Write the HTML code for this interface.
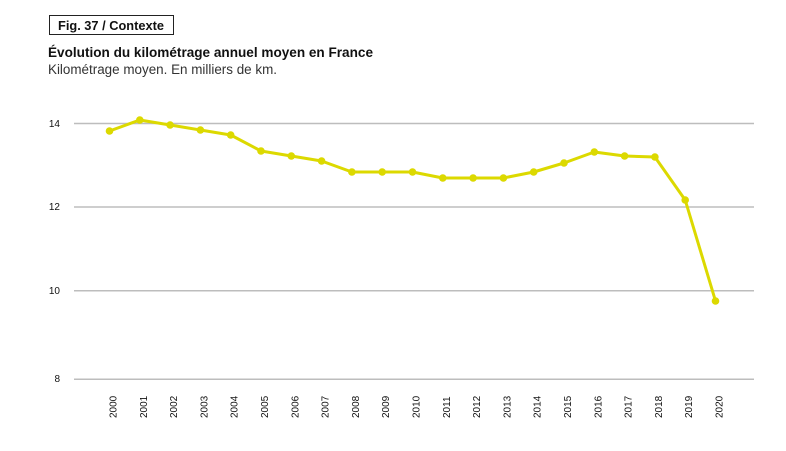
<!DOCTYPE html>
<html><head><meta charset="utf-8"><style>
body{margin:0;background:#fff;width:786px;height:446px;overflow:hidden;font-family:"Liberation Sans",sans-serif}
</style></head><body>
<svg width="786" height="446" xmlns="http://www.w3.org/2000/svg" font-family="Liberation Sans, sans-serif">
<rect x="49.5" y="15.5" width="124" height="19" fill="none" stroke="#222" stroke-width="1"/>
<text x="58" y="30" font-size="13" font-weight="bold" fill="#111" textLength="106" lengthAdjust="spacingAndGlyphs">Fig. 37 / Contexte</text>
<text x="48" y="57" font-size="14" font-weight="bold" fill="#111" textLength="325" lengthAdjust="spacingAndGlyphs">Évolution du kilométrage annuel moyen en France</text>
<text x="48" y="74" font-size="13.5" fill="#333" textLength="229" lengthAdjust="spacingAndGlyphs">Kilométrage moyen. En milliers de km.</text>
<g stroke="#bdbdbd" stroke-width="1.5">
<line x1="74" x2="754" y1="123.5" y2="123.5"/>
<line x1="74" x2="754" y1="207" y2="207"/>
<line x1="74" x2="754" y1="290.7" y2="290.7"/>
<line x1="74" x2="754" y1="379.3" y2="379.3"/>
</g>
<g font-size="10" fill="#111" text-anchor="end">
<text x="60" y="127">14</text><text x="60" y="210">12</text><text x="60" y="294">10</text><text x="60" y="382">8</text>
</g>
<g id="yrs" font-size="10" fill="#111"></g>
<polyline id="ln" fill="none" stroke="#dcd900" stroke-width="3" stroke-linejoin="round"/>
<g id="dots" fill="#dcd900"></g>
</svg>
<script>
var ys=[131,120,125,130,135,151,156,161,172,172,172,178,178,178,172,163,152,156,157,200,301];
var pts=[],d="",t="";
for(var i=0;i<21;i++){var x=109.5+i*30.3;pts.push(x+","+ys[i]);
d+='<circle cx="'+x+'" cy="'+ys[i]+'" r="3.8"/>';
t+='<text transform="translate('+(x+7)+',418) rotate(-90)">'+(2000+i)+'</text>';}
document.getElementById("ln").setAttribute("points",pts.join(" "));
document.getElementById("dots").innerHTML=d;
document.getElementById("yrs").innerHTML=t;
</script>
</body></html>
